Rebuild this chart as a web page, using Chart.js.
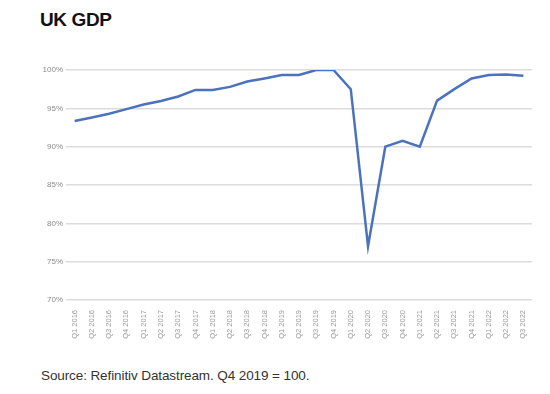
<!DOCTYPE html>
<html>
<head>
<meta charset="utf-8">
<script src="https://cdn.jsdelivr.net/npm/chart.js@4.4.0/dist/chart.umd.min.js"></script>
<style>
  body { margin: 0; background: #fff; width: 550px; height: 394px; position: relative; overflow: hidden; font-family: "Liberation Sans", Arial, sans-serif; }
  #title { position: absolute; left: 40px; top: 9px; font-size: 19px; font-weight: bold; color: #111; letter-spacing: -0.4px; }
  #wrap { position: absolute; left: 0; top: 40px; width: 550px; height: 310px; }
  #source { position: absolute; left: 41px; top: 368px; font-size: 13.5px; color: #333; letter-spacing: -0.1px; }
</style>
</head>
<body>
<div id="title">UK GDP</div>
<div id="wrap"><canvas id="canvas"></canvas></div>
<div id="source">Source: Refinitiv Datastream. Q4 2019 = 100.</div>
<script>
var quarters = [
  'Q1 2016','Q2 2016','Q3 2016','Q4 2016',
  'Q1 2017','Q2 2017','Q3 2017','Q4 2017',
  'Q1 2018','Q2 2018','Q3 2018','Q4 2018',
  'Q1 2019','Q2 2019','Q3 2019','Q4 2019',
  'Q1 2020','Q2 2020','Q3 2020','Q4 2020',
  'Q1 2021','Q2 2021','Q3 2021','Q4 2021',
  'Q1 2022','Q2 2022','Q3 2022'
];
var gdp = [
  93.35, 93.8, 94.3, 94.9,
  95.5, 95.95, 96.55, 97.4,
  97.4, 97.8, 98.5, 98.9,
  99.35, 99.35, 100, 100,
  97.5, 77.0, 90.0, 90.75,
  90.0, 96.0, 97.5, 98.9,
  99.35, 99.4, 99.25
];
var yTicks = [70, 75, 80, 85, 90, 95, 100];

var config = {
  type: 'line',
  data: {
    labels: quarters,
    datasets: [{
      label: 'UK GDP',
      data: gdp,
      borderColor: '#4a72bd',
      borderWidth: 2.5,
      pointRadius: 0,
      tension: 0,
      fill: false
    }]
  },
  options: {
    responsive: true,
    maintainAspectRatio: false,
    animation: false,
    layout: { padding: { top: 30, right: 18, bottom: 0, left: 0 } },
    plugins: { legend: { display: false }, tooltip: { enabled: false } },
    scales: {
      x: {
        offset: true,
        grid: { display: false },
        border: { display: false },
        afterFit: function(scale) { scale.height = 50; },
        ticks: {
          autoSkip: false,
          minRotation: 90,
          maxRotation: 90,
          padding: 2,
          color: '#9a9a9a',
          font: { family: 'Liberation Sans', size: 7.5 }
        }
      },
      y: {
        min: 70,
        max: 100,
        afterFit: function(scale) { scale.width = 66; },
        afterBuildTicks: function(scale) {
          scale.ticks = yTicks.map(function(v) { return { value: v }; });
        },
        grid: { color: '#dcdcdc', lineWidth: 1.5, drawTicks: false },
        border: { display: false },
        ticks: {
          padding: 3,
          color: '#8a8a8a',
          font: { family: 'Liberation Sans', size: 8 },
          callback: function(v) { return v + '%'; }
        }
      }
    }
  }
};

window.onload = function() {
  window.myChart = new Chart(document.getElementById('canvas'), config);
};
</script>
</body>
</html>
